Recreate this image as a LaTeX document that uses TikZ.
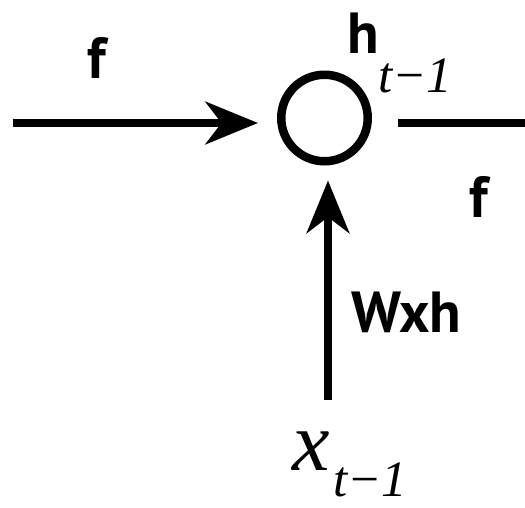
\documentclass[tikz,border=0pt]{standalone}
\usepackage{fontspec}
\newfontfamily\sanslbl{PT Sans}
\newfontfamily\seriflbl{Liberation Serif}
\usetikzlibrary{arrows.meta}
\tikzset{
    wire/.style={line width=0.17cm},
    arrow/.style={wire, -{Stealth[length=1.05cm, width=0.85cm, inset=0.32cm]}},
    neuron/.style={circle, draw, line width=0.17cm, minimum size=1.73cm, inner sep=0pt},
    weight/.style={font=\sanslbl\bfseries\fontsize{33}{36}\selectfont,
        anchor=base west, inner sep=0pt},
    var/.style={font=\seriflbl\itshape\fontsize{48}{52}\selectfont,
        anchor=base west, inner sep=0pt},
    subidx/.style={font=\seriflbl\itshape\fontsize{29}{32}\selectfont,
        anchor=base west, inner sep=0pt},
}

\begin{document}
\begin{tikzpicture}[x=0.02cm, y=-0.02cm]

    \useasboundingbox (0,0) rectangle (525,508);

    % Hidden unit
    \node[neuron] (h) at (324.5,118) {};

    % ---- Free ends ----
    \coordinate (in) at (13,123);
    \coordinate (out) at (530,123);
    \coordinate (xin) at (328,400);

    % ---- Labels ----
    \node[weight] (fin) at (87,78) {f};
    \node[weight] (hlbl) at (347,53) {h};
    \node[subidx] (hsub) at (378,92) {t−1};
    \node[weight] (fout) at (469,217) {f};
    \node[weight] (wxh) at (351,332) {Wxh};
    \node[var] (xlbl) at (292,470) {x};
    \node[subidx] (xsub) at (333,496) {t−1};

    % ---- Edges ----
    \draw[arrow, shorten >=0.38cm] (in) -- (in -| h.west);
    \draw[wire, shorten <=0.52cm] (out -| h.east) -- (out);
    \draw[arrow, shorten >=0.3cm] (xin) -- (xin |- h.south);

\end{tikzpicture}
\end{document}
